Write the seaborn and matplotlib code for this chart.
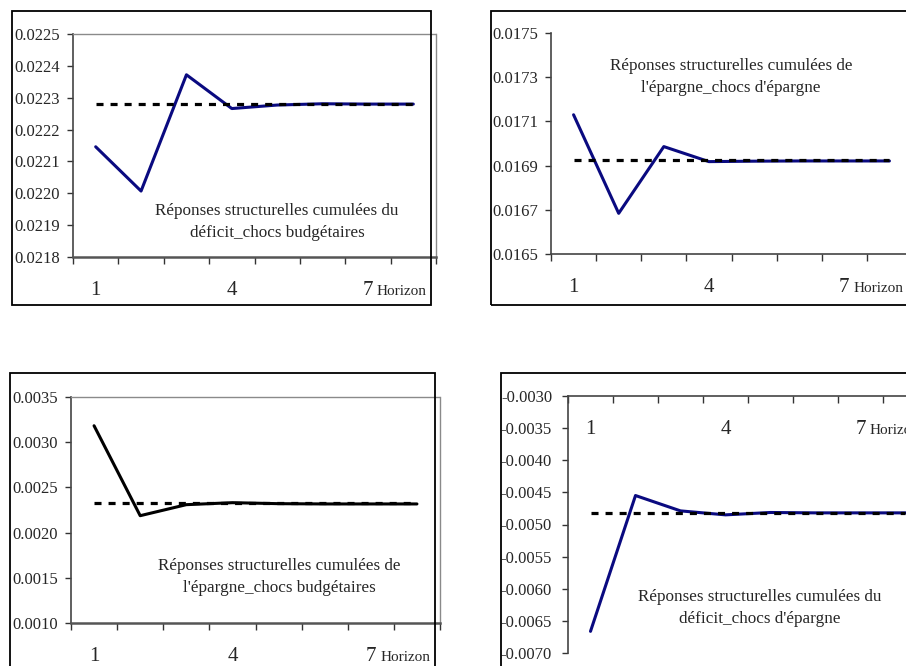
import matplotlib
matplotlib.use("Agg")
import matplotlib.pyplot as plt
import matplotlib.patches as mpatches
import seaborn as sns
import numpy as np

sns.set_style("ticks")
plt.rcParams['font.family'] = ['Liberation Serif', 'DejaVu Serif']
plt.rcParams['axes.unicode_minus'] = False

# ---- data ----
horizon = [1, 2, 3, 4, 5, 6, 7, 8]
xtick_labels = ["1", "4", "7"]
xtick_pos = [1, 4, 7]

deficit_budget = [0.022146, 0.022007, 0.022372, 0.022266, 0.022277, 0.022281, 0.022280, 0.022280]
deficit_budget_lr = 0.02228

epargne_epargne = [0.01713, 0.016684, 0.016986, 0.016918, 0.016920, 0.016921, 0.016921, 0.016921]
epargne_epargne_lr = 0.016924

epargne_budget = [0.003182, 0.002187, 0.002309, 0.002331, 0.002320, 0.002317, 0.002317, 0.002317]
epargne_budget_lr = 0.002328

deficit_epargne = [-0.006663, -0.004549, -0.004788, -0.004850, -0.004813, -0.004819, -0.004819, -0.004819]
deficit_epargne_lr = -0.004819

titles = [
    "Réponses structurelles cumulées du\ndéficit_chocs budgétaires",
    "Réponses structurelles cumulées de\nl'épargne_chocs d'épargne",
    "Réponses structurelles cumulées de\nl'épargne_chocs budgétaires",
    "Réponses structurelles cumulées du\ndéficit_chocs d'épargne",
]
yticks_1 = [0.0218, 0.0219, 0.0220, 0.0221, 0.0222, 0.0223, 0.0224, 0.0225]
yticks_2 = [0.0165, 0.0167, 0.0169, 0.0171, 0.0173, 0.0175]
yticks_3 = [0.0010, 0.0015, 0.0020, 0.0025, 0.0030, 0.0035]
yticks_4 = [-0.0070, -0.0065, -0.0060, -0.0055, -0.0050, -0.0045, -0.0040, -0.0035, -0.0030]

W, H = 906, 666
fig = plt.figure(figsize=(W / 100, H / 100), dpi=100)


def frac(x0, y0, x1, y1):
    return [x0 / W, 1 - y1 / H, (x1 - x0) / W, (y1 - y0) / H]


def outer_box(x0, y0, x1, y1):
    r = mpatches.Rectangle((x0 / W, 1 - y1 / H), (x1 - x0) / W, (y1 - y0) / H,
                           transform=fig.transFigure, fill=False,
                           edgecolor='black', linewidth=1.3, zorder=0)
    fig.patches.append(r)


NAVY = '#0a0a80'


def panel(rect, values, lr, yticks, title, tx, ty, color, dotted_box, xaxis_at=None,
          ypad=5, hz_off=-38):
    ax = fig.add_axes(frac(*rect))
    ax.set_facecolor('none')
    sns.lineplot(x=horizon, y=values, ax=ax, color=color, linewidth=2.2, zorder=3)
    sns.lineplot(x=horizon, y=[lr] * len(horizon), ax=ax, color='black',
                 linewidth=2.3, linestyle=(0, (2.2, 2.2)), zorder=4)
    ax.set_xlabel("")
    ax.set_ylabel("")
    for s in ['left', 'bottom']:
        ax.spines[s].set_color('#444444')
        ax.spines[s].set_linewidth(1.2)
    if dotted_box:
        for s in ['top', 'right']:
            ax.spines[s].set_visible(True)
            ax.spines[s].set_color('#8a8a8a')
            ax.spines[s].set_linewidth(1.0)
            ax.spines[s].set_linestyle((0, (1, 1)))
        ax.spines['bottom'].set_linewidth(1.8)
        ax.spines['bottom'].set_color('#555555')
    else:
        ax.spines['top'].set_visible(False)
        ax.spines['right'].set_visible(False)
    if xaxis_at is not None:
        ax.spines['bottom'].set_position(('data', xaxis_at))
    ax.set_xlim(0.5, 8.5)
    ax.set_ylim(yticks[0], yticks[-1])
    ax.set_yticks(yticks)
    ax.set_yticklabels([f"{v:.4f}" for v in yticks])
    ax.set_xticks(np.arange(0.5, 9.0, 1.0))
    ax.set_xticklabels([])
    ax.set_xticks(xtick_pos, minor=True)
    ax.set_xticklabels(xtick_labels, minor=True, fontsize=15)
    ax.tick_params(axis='x', which='minor', length=0, pad=17)
    ax.tick_params(axis='x', which='major', direction='out', length=5, width=1, color='#333333')
    ax.tick_params(axis='y', direction='out', length=4.5, width=1, labelsize=12,
                   pad=ypad, color='#333333')
    ybase = 0 if xaxis_at is None else 1
    ax.annotate("Horizon", xy=(7.2, ybase), xycoords=('data', 'axes fraction'),
                xytext=(0, hz_off), textcoords='offset pixels',
                ha='left', va='baseline', fontsize=11)
    ax.text(tx, ty, title, transform=ax.transAxes, ha='center', va='center',
            fontsize=12.3, linespacing=1.55, zorder=5)
    return ax


outer_box(12, 11, 431, 305)
outer_box(491, 11, 940, 305)
outer_box(10, 373, 435, 700)
outer_box(501, 373, 940, 700)

panel((73, 34, 436, 257), deficit_budget, deficit_budget_lr, yticks_1, titles[0],
      0.562, 0.157, NAVY, True)
panel((551, 33, 912, 254), epargne_epargne, epargne_epargne_lr, yticks_2, titles[1],
      0.499, 0.80, NAVY, False)
panel((71, 397, 440, 623), epargne_budget, epargne_budget_lr, yticks_3, titles[2],
      0.564, 0.204, 'black', True)
panel((568, 396, 928, 653), deficit_epargne, deficit_epargne_lr, yticks_4, titles[3],
      0.533, 0.175, NAVY, False, xaxis_at=-0.0030, ypad=7)

fig.savefig("out.png", dpi=100)
